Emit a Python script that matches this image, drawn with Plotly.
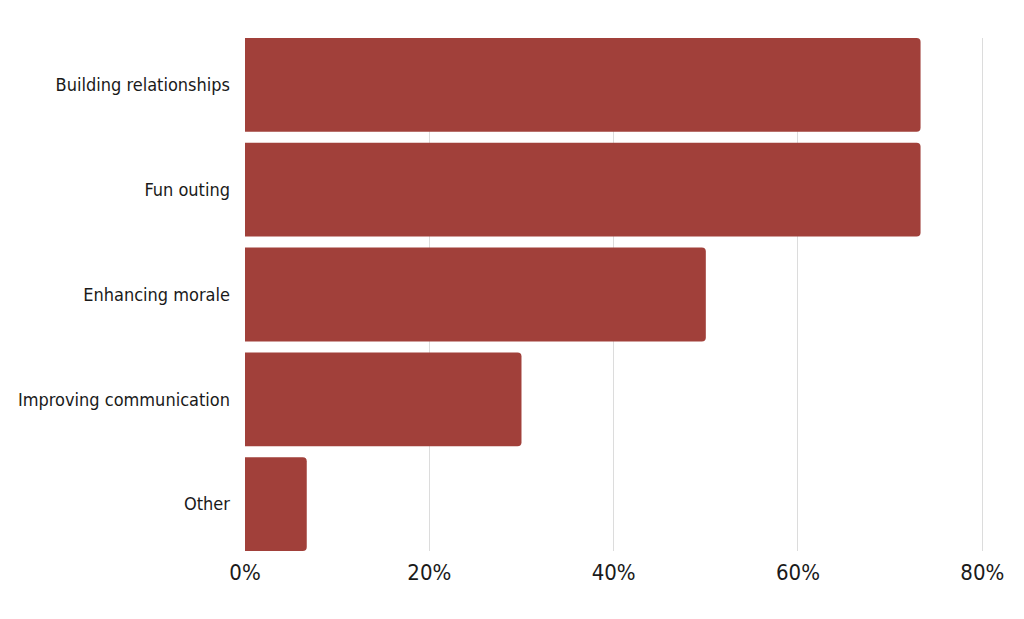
import plotly.graph_objects as go

categories = ["Building relationships", "Fun outing", "Enhancing morale",
              "Improving communication", "Other"]
values = [73.3, 73.3, 50.0, 30.0, 6.7]
x_tickvals = [0, 20, 40, 60, 80]
x_ticktext = ["0%", "20%", "40%", "60%", "80%"]

FONT = "Liberation Sans Narrow, DejaVu Sans Condensed, Roboto, sans-serif"
gap = 0.105

fig = go.Figure(go.Bar(
    x=values,
    y=categories,
    orientation="h",
    marker=dict(color="#A1403A", line=dict(width=0)),
    hoverinfo="skip",
))

fig.update_layout(
    width=1024, height=619,
    margin=dict(l=237, r=46, t=30, b=76),
    paper_bgcolor="white",
    plot_bgcolor="white",
    bargap=gap,
    barcornerradius=4,
    showlegend=False,
    font=dict(family=FONT, size=18, color="#1a1a1a"),
)
fig.update_xaxes(
    range=[0, 80.4],
    tickvals=x_tickvals,
    ticktext=x_ticktext,
    showgrid=True,
    gridcolor="#dcdcdc",
    gridwidth=1,
    zeroline=False,
    showline=False,
    ticks="",
    automargin=False,
    ticklabelstandoff=6,
    tickfont=dict(family=FONT, size=22, color="#1a1a1a"),
)
fig.update_yaxes(
    autorange=False,
    range=[len(categories) - 0.5 - gap / 2, -0.5 + gap / 2],
    categoryorder="array",
    categoryarray=categories,
    showgrid=False,
    zeroline=False,
    showline=False,
    ticks="",
    automargin=False,
    ticklabelstandoff=14,
    tickfont=dict(family=FONT, size=18, color="#1a1a1a"),
)

fig.write_html("out.html")
